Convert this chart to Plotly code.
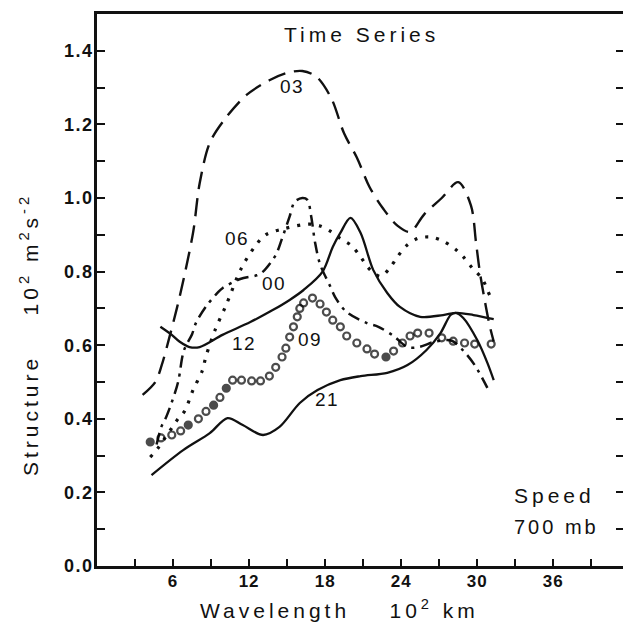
import plotly.graph_objects as go

# ---------------- data ----------------
# wavelength (10^2 km) and structure (10^2 m^2 s^-2) for each time series
w03 = [3.6, 4.6, 5.1, 5.7, 6.3, 6.9, 7.6, 8.1, 8.9, 10.1, 11.8, 13.6, 15.0, 16.2, 17.3, 18.5,
       19.5, 20.5, 21.5, 22.6, 23.7, 24.7, 25.8, 27.2, 28.5, 29.5, 29.9, 30.2, 30.6, 31.0, 31.3]
s03 = [0.465, 0.50, 0.545, 0.62, 0.70, 0.79, 0.91, 1.04, 1.15, 1.215, 1.28, 1.32, 1.34, 1.345, 1.33, 1.27,
       1.175, 1.11, 1.03, 0.97, 0.925, 0.908, 0.955, 1.0, 1.043, 0.98, 0.88, 0.80, 0.72, 0.65, 0.61]

w06 = [4.2, 4.8, 6.4, 6.9, 7.6, 8.3, 8.6, 9.3, 10.2, 11.4, 12.5, 13.3, 14.8, 16.7, 17.6, 18.4, 19.2,
       20.1, 20.8, 21.3, 21.7, 22.4, 23.1, 23.7, 24.4, 25.3, 26.3, 27.3, 28.3, 28.9, 29.6, 30.4, 31.0, 31.3]
s06 = [0.296, 0.32, 0.40, 0.42, 0.48, 0.53, 0.57, 0.64, 0.71, 0.81, 0.87, 0.90, 0.917, 0.929, 0.924, 0.91, 0.89,
       0.87, 0.84, 0.815, 0.80, 0.787, 0.81, 0.84, 0.87, 0.89, 0.894, 0.883, 0.86, 0.84, 0.81, 0.78, 0.735, 0.72]

w00 = [4.7, 5.1, 5.4, 5.9, 6.4, 6.85, 7.5, 7.8, 8.6, 9.5, 9.9, 11.3, 12.6, 13.1, 14.1, 14.6, 15.2, 15.6,
       16.2, 16.6, 16.9, 17.2, 17.6, 18.4, 18.8, 19.7, 21.3, 22.2, 23.4, 24.5, 25.4, 26.7, 28.0, 28.9, 29.8, 30.8]
s00 = [0.33, 0.38, 0.40, 0.445, 0.50, 0.585, 0.63, 0.66, 0.705, 0.742, 0.755, 0.78, 0.79, 0.80, 0.845, 0.89, 0.95, 0.99,
       1.0, 0.995, 0.95, 0.88, 0.82, 0.76, 0.73, 0.69, 0.66, 0.65, 0.625, 0.595, 0.595, 0.61, 0.612, 0.585, 0.546, 0.484]

w12 = [5.0, 5.9, 6.5, 7.3, 8.1, 9.9, 12.1, 13.9, 15.2, 16.3, 17.8, 18.6, 19.2, 20.0, 20.8, 21.8,
       22.9, 23.9, 25.5, 27.3, 28.4, 29.7, 31.3]
s12 = [0.65, 0.628, 0.61, 0.595, 0.595, 0.628, 0.663, 0.696, 0.723, 0.75, 0.80, 0.867, 0.905, 0.946, 0.905, 0.804,
       0.742, 0.704, 0.677, 0.682, 0.688, 0.682, 0.671]

w21 = [4.3, 6.8, 8.9, 10.3, 11.5, 13.1, 14.4, 16.0, 17.4, 19.2, 20.8, 22.9, 24.5, 26.0, 27.1, 27.9,
       28.3, 28.9, 30.0, 30.8, 31.3]
s21 = [0.247, 0.315, 0.361, 0.402, 0.383, 0.356, 0.378, 0.443, 0.478, 0.505, 0.516, 0.525, 0.546, 0.587, 0.633, 0.682,
       0.688, 0.674, 0.614, 0.552, 0.505]

w09 = [4.2, 5.05, 5.9, 6.6, 7.2, 8.0, 8.6, 9.2, 9.7, 10.2, 10.7, 11.4, 12.2, 12.9, 13.6, 14.1, 14.6, 14.9,
       15.2, 15.5, 15.8, 16.0, 16.3, 17.0, 17.6, 18.1, 18.6, 19.2, 19.7, 20.5, 21.3, 21.9, 22.8, 23.4, 24.1,
       24.7, 25.3, 26.2, 27.2, 28.1, 29.0, 29.8, 31.1]
s09 = [0.337, 0.348, 0.356, 0.367, 0.383, 0.40, 0.42, 0.437, 0.458, 0.483, 0.505, 0.505, 0.503, 0.503, 0.516, 0.54,
       0.568, 0.592, 0.622, 0.65, 0.677, 0.70, 0.715, 0.728, 0.712, 0.69, 0.668, 0.65, 0.625, 0.606, 0.59, 0.576,
       0.568, 0.584, 0.606, 0.625, 0.633, 0.633, 0.62, 0.611, 0.606, 0.603, 0.603]
filled09 = [1, 0, 0, 0, 1, 0, 0, 1, 0, 1, 0, 0, 0, 0, 0, 0, 0, 0, 0, 0, 0, 0, 0, 0, 0, 0, 0, 0, 0, 0, 0, 0,
            1, 0, 0, 0, 0, 0, 0, 0, 0, 0, 0]

curve_labels = ["03", "06", "00", "12", "09", "21"]
label_x = [15.4, 11.05, 14.0, 11.6, 16.8, 18.15]
label_y = [1.302, 0.89, 0.768, 0.605, 0.615, 0.452]

xtick_vals = [6, 12, 18, 24, 30, 36]
ytick_vals = [0.0, 0.2, 0.4, 0.6, 0.8, 1.0, 1.2, 1.4]
ytick_text = ["0.0", "0.2", "0.4", "0.6", "0.8", "1.0", "1.2", "1.4"]

# ---------------- styling ----------------
INK = "#111111"
FONT = "Liberation Sans"


def spaced(s, px):
    return "<span style='letter-spacing:%spx'>%s</span>" % (px, s)


fig = go.Figure()


def add_line(x, y, dash, width=2.4, yaxis="y"):
    fig.add_trace(go.Scatter(
        x=x, y=y, mode="lines", yaxis=yaxis,
        line=dict(color=INK, width=width, dash=dash, shape="spline", smoothing=0.9),
        showlegend=False, hoverinfo="skip"))


add_line(w03, s03, "18px,9px", 2.4)
add_line(w06, s06, "3px,8px", 3.2)
add_line(w00, s00, "12px,6px,3px,6px", 2.5)
add_line(w12, s12, "solid", 2.3)
add_line(w21, s21, "solid", 2.3, yaxis="y2")

fig.add_trace(go.Scatter(
    x=w09, y=s09, mode="markers",
    marker=dict(symbol=["circle" if f else "circle-open" for f in filled09],
                size=[7 if f else 7 for f in filled09],
                color="black", line=dict(color="black", width=2.2)),
    showlegend=False, hoverinfo="skip"))

annotations = []
for t, x, y in zip(curve_labels, label_x, label_y):
    annotations.append(dict(x=x, y=y, xref="x", yref="y", text=spaced(t, 1.5), showarrow=False,
                            xanchor="center", yanchor="middle",
                            font=dict(family=FONT, size=19, color=INK)))


def paper_text(px, py, text, size, **kw):
    d = dict(x=(px - 97) / 526, y=(566 - py) / 552, xref="paper", yref="paper", text=text,
             showarrow=False, xanchor="center", yanchor="middle",
             font=dict(family=FONT, size=size, color=INK))
    d.update(kw)
    return d


annotations += [
    paper_text(361, 34, spaced("Time Series", 4), 21),
    paper_text(597, 495, spaced("Speed", 4), 21, xanchor="right"),
    paper_text(601, 527, spaced("700 mb", 3), 20, xanchor="right"),
    paper_text(339, 609, spaced("Wavelength\u00a0\u00a0\u00a0\u00a010<sup>2</sup> km", 4), 21),
    paper_text(29, 335, spaced("Structure\u00a0\u00a0\u00a0\u00a010<sup>2</sup> m<sup>2</sup>s<sup>-2</sup>", 4),
               21, textangle=-90),
]

axis_common = dict(showgrid=False, zeroline=False, showline=True, linecolor=INK, linewidth=2.5,
                   ticks="inside", tickcolor=INK, tickwidth=2, ticklen=7)

fig.update_layout(
    width=623, height=625,
    margin=dict(l=97, r=0, t=14, b=59, autoexpand=False),
    paper_bgcolor="white", plot_bgcolor="white",
    font=dict(family=FONT, color=INK),
    xaxis=dict(range=[0, 41.5], tickmode="array", tickvals=xtick_vals,
               ticktext=[spaced(str(v), 1) for v in xtick_vals],
               tickfont=dict(family=FONT, size=17, color=INK, weight="bold"),
               mirror=True, ticklabelstandoff=-2,
               minor=dict(dtick=3, ticks="inside", ticklen=7, tickwidth=2, tickcolor=INK),
               **axis_common),
    yaxis=dict(range=[0, 1.5], tickmode="array", tickvals=ytick_vals,
               ticktext=[spaced(t, 1.5) for t in ytick_text],
               tickfont=dict(family=FONT, size=18, color=INK, weight="bold"),
               ticklabelstandoff=-3,
               minor=dict(dtick=0.1, ticks="inside", ticklen=8, tickwidth=2, tickcolor=INK),
               **{**axis_common, "ticklen": 8}),
    yaxis2=dict(range=[0, 1.5], overlaying="y", side="right", showline=False, showgrid=False,
                zeroline=False, ticks="inside", dtick=0.1, ticklen=7, tickwidth=2, tickcolor=INK,
                showticklabels=False),
    annotations=annotations,
)

fig.write_html("out.html", config={"displayModeBar": False},
               post_script="document.body.style.margin='0px';document.body.style.overflow='hidden';")
